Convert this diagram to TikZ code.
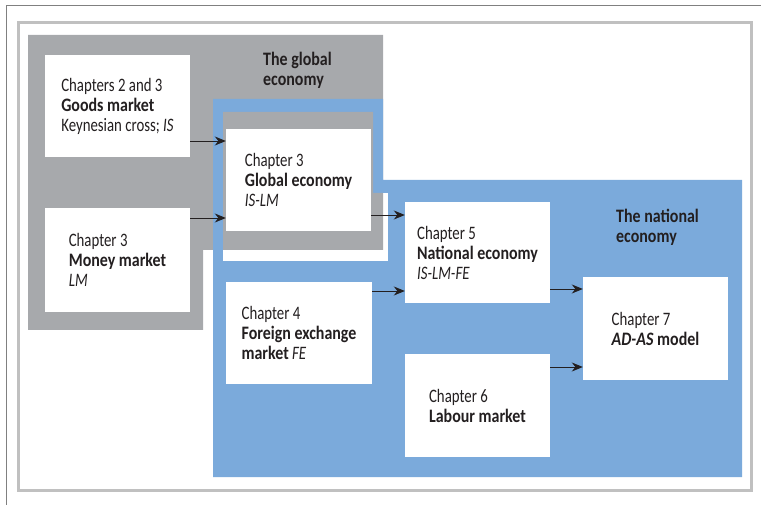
\documentclass[tikz,border=0pt]{standalone}
\usepackage{fontspec}
\setmainfont{Carlito}[FakeStretch=0.78,
    BoldFeatures={FakeStretch=0.84},
    BoldItalicFeatures={FakeStretch=0.84}]
\usetikzlibrary{arrows.meta}
\definecolor{globalgray}{HTML}{A7A9AC}
\definecolor{nationblue}{HTML}{7BAADB}
\definecolor{framegray}{HTML}{C0C0C0}
\definecolor{inkdark}{HTML}{231F20}

\begin{document}
\begin{tikzpicture}[x=1pt,y=-1pt,
    chapbox/.style={fill=white,inner sep=0pt,align=left,text=inkdark,
        minimum width=145pt,minimum height=102pt,
        font=\fontsize{19}{20}\selectfont},
    areatitle/.style={anchor=west,align=left,inner sep=0pt,text=inkdark,
        font=\fontsize{19}{20}\selectfont\bfseries},
    link/.style={draw=inkdark,line width=0.9pt,-{Stealth[length=11pt,width=9pt]}}]
  \useasboundingbox (0,0) rectangle (761,505);
  % page edge and frame
  \draw[gray,line width=1pt] (6,505) -- (6,6) -- (761,6);
  \draw[framegray,line width=3pt] (18.5,22.5) rectangle (751.5,490.5);
  % the global economy
  \fill[globalgray] (28,35) -- (383,35) -- (383,250) -- (203,250) -- (203,330) -- (28,330) -- cycle;
  % the national economy
  \fill[nationblue] (213,99) -- (383,99) -- (383,180) -- (742,180) -- (742,477) -- (213,477) -- cycle;
  \fill[white] (223,193) rectangle (388,261);
  \fill[globalgray] (223,112) -- (373,112) -- (373,193) -- (383,193) -- (383,250) -- (223,250) -- cycle;

  \node[areatitle] (globaltitle) at (263,70) {The global\\economy};
  \node[areatitle] (nationtitle) at (616,227) {The national\\economy};

  \node[chapbox] (goods) at (117.5,106) {Chapters 2 and 3\\\textbf{Goods market}\\Keynesian cross; \textit{IS}};
  \node[chapbox,minimum height=104pt] (money) at (117.5,260) {Chapter 3\\\textbf{Money market}\\\textit{LM}};
  \node[chapbox] (global) at (298.5,180) {Chapter 3\\\textbf{Global economy}\\\textit{IS-LM}};
  \node[chapbox,minimum height=101pt] (national) at (477.5,252.5) {Chapter 5\\\textbf{National economy}\\\textit{IS-LM-FE}};
  \node[chapbox,minimum width=146pt] (forex) at (299,333) {Chapter 4\\\textbf{Foreign exchange}\\\textbf{market} \textit{FE}};
  \node[chapbox,minimum height=103pt] (labour) at (477.5,405.5) {Chapter 6\\\textbf{Labour market}};
  \node[chapbox,minimum height=103pt] (adas) at (655.5,328.5) {Chapter 7\\\textbf{\textit{AD-AS} model}};

  \coordinate (goodsout) at ([yshift=-35pt]goods.east);
  \coordinate (moneyout) at ([yshift=42pt]money.east);
  \coordinate (globalout) at ([yshift=-35pt]global.east);
  \coordinate (forexout) at ([yshift=42pt]forex.east);
  \coordinate (nationalout) at ([yshift=-36.5pt]national.east);
  \coordinate (labourout) at ([yshift=38.5pt]labour.east);
  \draw[link] (goodsout) -- (goodsout -| global.west);
  \draw[link] (moneyout) -- (moneyout -| global.west);
  \draw[link] (globalout) -- (globalout -| national.west);
  \draw[link] (forexout) -- (forexout -| national.west);
  \draw[link] (nationalout) -- (nationalout -| adas.west);
  \draw[link] (labourout) -- (labourout -| adas.west);
\end{tikzpicture}
\end{document}
